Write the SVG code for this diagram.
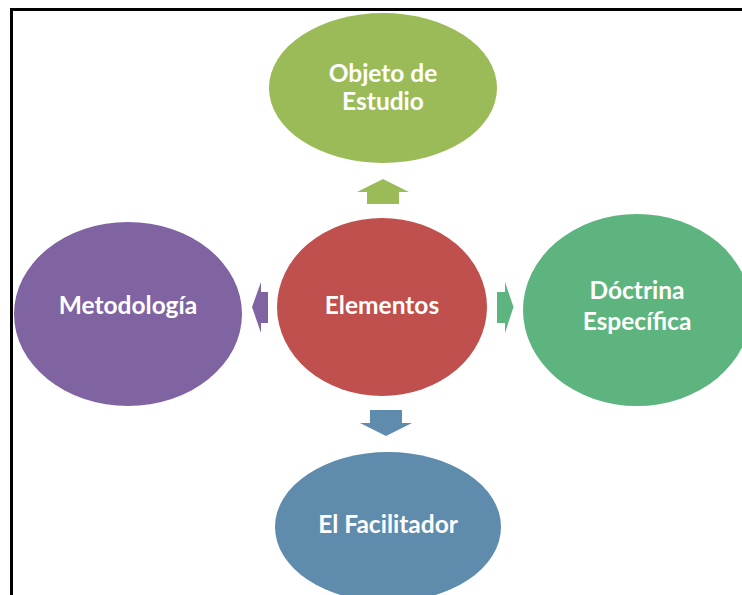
<svg xmlns="http://www.w3.org/2000/svg" width="742" height="595" viewBox="0 0 742 595">
<style>
.lbl{font-family:Lato,"Open Sans","Liberation Sans",sans-serif;font-weight:bold;font-size:24.5px;fill:#ffffff;text-anchor:middle}
</style>
<rect x="0" y="0" width="742" height="595" fill="#ffffff"/>
<path d="M11.5,595 V9.5 H742" fill="none" stroke="#000000" stroke-width="3"/>
<g id="connectors">
<polygon points="383,179 409,192 399,192 399,204 367,204 367,192 357,192" fill="#9BBB59"/>
<polygon points="252,307 261,282 261,292 268,292 268,323 261,323 261,333" fill="#8064A2"/>
<polygon points="513.5,307 505,282 505,292 497,292 497,323 505,323 505,333" fill="#5DB47E"/>
<polygon points="386,436 412,423 402,423 402,410 370,410 370,423 360,423" fill="#5F8BAD"/>
</g>
<g id="objeto">
<ellipse cx="383" cy="88" rx="114" ry="75" fill="#9BBB59"/>
<text class="lbl" x="383" y="82">Objeto de</text>
<text class="lbl" x="383" y="110">Estudio</text>
</g>
<g id="elementos">
<ellipse cx="382" cy="307" rx="105" ry="89" fill="#C0504D"/>
<text class="lbl" x="382" y="314">Elementos</text>
</g>
<g id="metodologia">
<ellipse cx="128" cy="314" rx="114" ry="92" fill="#8064A2"/>
<text class="lbl" x="128" y="314">Metodología</text>
</g>
<g id="doctrina">
<ellipse cx="637" cy="310" rx="114" ry="96" fill="#5DB47E"/>
<text class="lbl" x="637" y="299">Dóctrina</text>
<text class="lbl" x="637" y="330">Específica</text>
</g>
<g id="facilitador">
<ellipse cx="388" cy="527" rx="113" ry="75" fill="#5F8BAD"/>
<text class="lbl" x="388" y="533">El Facilitador</text>
</g>
</svg>
